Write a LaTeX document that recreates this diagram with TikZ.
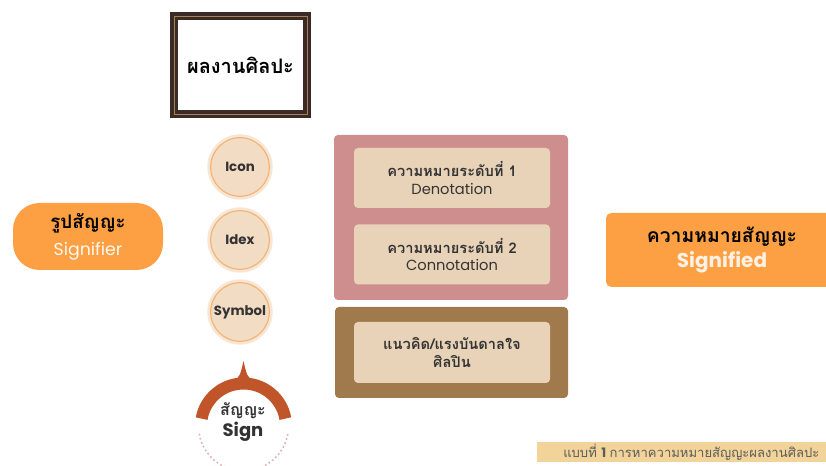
\documentclass[tikz,border=0pt]{standalone}
\usepackage{fontspec}
\setmainfont{Poppins}
\newfontfamily\thai[Script=Thai]{Loma}
\usetikzlibrary{positioning}
\definecolor{Sorange}{HTML}{FCA043}
\definecolor{Peach}{HTML}{F3DCC4}
\definecolor{PeachLt}{HTML}{F6E6D6}
\definecolor{Ring}{HTML}{F5B06A}
\definecolor{Rust}{HTML}{C0552A}
\definecolor{Dusty}{HTML}{CF8E8E}
\definecolor{Wood}{HTML}{A07A4C}
\definecolor{Cream}{HTML}{E8D3B8}
\definecolor{FrameBrown}{HTML}{3B2A26}
\definecolor{FrameGold}{HTML}{A08456}
\definecolor{Capt}{HTML}{F2D49A}
\definecolor{Ink}{HTML}{333333}
\tikzset{
  artframe/.style={draw=FrameBrown, fill=white, line width=6pt, minimum width=99.75pt, minimum height=73.5pt, inner sep=0pt},
  typeball/.style={circle, fill=Peach, draw=Ring, line width=0.8pt, minimum size=44pt, inner sep=0pt,
    preaction={draw=PeachLt, line width=5pt}, font=\bfseries\fontsize{10}{12}\selectfont, text=Ink},
  sidebox/.style={fill=Sorange, align=center, inner sep=0pt},
  levelbox/.style={fill=Cream, rounded corners=3pt, minimum width=147pt, minimum height=45pt, align=center, inner sep=0pt, text=Ink,
    font=\fontsize{11}{13}\selectfont},
  signarc/.style={draw=Rust, line width=9pt},
}
\newcommand{\thb}[1]{{\thai\bfseries #1}}

\begin{document}
\begin{tikzpicture}[x=0.75pt, y=-0.75pt]
  \useasboundingbox (0,0) rectangle (826,466);
  % art work
  \node[artframe] (art) at (240.5,65) {\fontsize{15}{18}\selectfont\thb{ผลงานศิลปะ}};
  \draw[FrameGold, line width=0.5pt] ([shift={(3pt,-3pt)}]art.north west) rectangle ([shift={(-3pt,3pt)}]art.south east);
  % sign types
  \node[typeball] (icon) at (240,167) {Icon};
  \node[typeball] (idex) at (240,240) {Idex};
  \node[typeball] (symbol) at (240,312) {Symbol};
  % sign
  \draw[signarc] (243.5,426) ++(-10:42.5) arc (-10:-170:42.5);
  \fill[Rust] (234,381) .. controls (240,376) .. (243.5,361) .. controls (247,376) .. (253,381) -- cycle;
  \draw[Dusty!70, line width=1.2pt, dotted] (243.5,426) ++(170:45) arc (170:10:45);
  \node[align=center, text=Ink, inner sep=0pt] (sign) at (243,422)
    {\fontsize{12}{14}\selectfont\thb{สัญญะ}\\[1pt] \fontsize{13.5}{15}\selectfont\bfseries Sign};
  % signifier / signified
  \node[sidebox, rounded corners=20pt, minimum width=112.5pt, minimum height=50.25pt] (signifier) at (88,236.5)
    {\fontsize{14}{17}\selectfont\thb{รูปสัญญะ}\\[6pt] \fontsize{13}{15}\selectfont\color{white!92!Sorange}Signifier};
  \node[sidebox, rounded corners=4pt, minimum width=174pt, minimum height=55.5pt] (signified) at (722,250)
    {\fontsize{14.5}{17}\selectfont\thb{ความหมายสัญญะ}\\[3pt] \fontsize{15}{17}\selectfont\color{white!85!Sorange}\bfseries Signified};
  % meaning levels
  \fill[Dusty, rounded corners=3pt] (334,135) rectangle (568,300);
  \node[levelbox] (deno) at (452,178) {\thb{ความหมายระดับที่ 1}\\[0pt] Denotation};
  \node[levelbox] (conno) at (452,254.5) {\thb{ความหมายระดับที่ 2}\\[0pt] Connotation};
  \fill[Wood, rounded corners=3pt] (335,307) rectangle (568,398);
  \node[levelbox, minimum height=45.75pt] (idea) at (452,352.5) {\thb{แนวคิด/แรงบันดาลใจ}\\ \thb{ศิลปิน}};
  % caption
  \fill[Capt] (537,442) rectangle (826,462);
  \node[anchor=west, text=Ink!80, font=\fontsize{9.8}{11}\selectfont, inner sep=0pt] (cap) at (563,452)
    {{\thai แบบที่ }\textbf{1} {\thai การหาความหมายสัญญะผลงานศิลปะ}};
\end{tikzpicture}
\end{document}
